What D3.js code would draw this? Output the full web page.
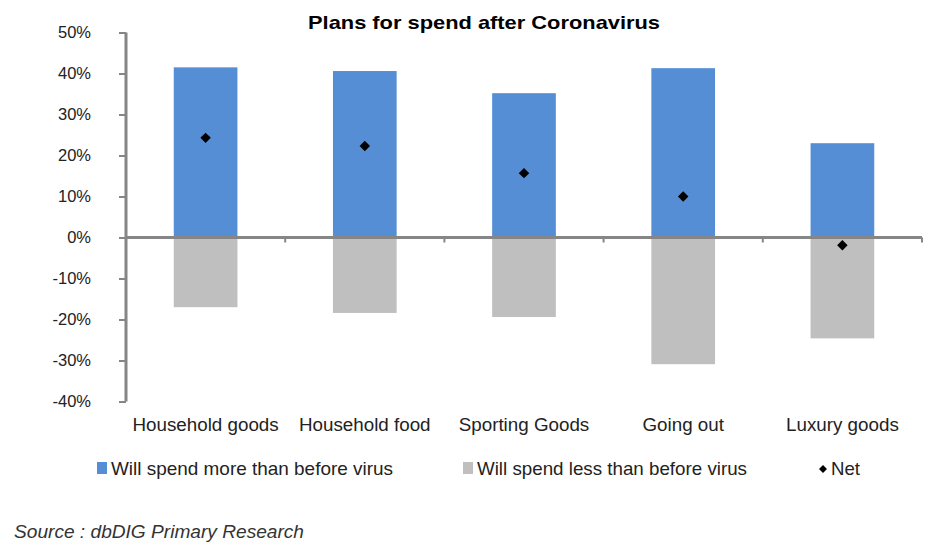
<!DOCTYPE html>
<html><head><meta charset="utf-8">
<script src="https://cdn.jsdelivr.net/npm/d3@7"></script>
<style>body{margin:0;background:#fff}svg{display:block}</style>
</head><body>
<svg id="c" width="939" height="551"></svg>
<script>
const categories = ["Household goods","Household food","Sporting Goods","Going out","Luxury goods"];
const moreValues = [41.5, 40.6, 35.2, 41.3, 23.0];
const lessValues = [-17.0, -18.4, -19.4, -30.9, -24.6];
const netValues = [24.3, 22.3, 15.7, 10.0, -1.9];
const yTicks = [50,40,30,20,10,0,-10,-20,-30,-40];
const legendLabels = ["Will spend more than before virus","Will spend less than before virus","Net"];

(function(){
const svg = d3.select("#c");
const pLeft = 126, pRight = 922, pTop = 32.5, pBottom = 401.5;
const x = d3.scaleBand().domain(categories).range([pLeft, pRight]).padding(0);
const y = d3.scaleLinear().domain([-40, 50]).range([pBottom, pTop]);
const barW = x.bandwidth() * 0.4;
const axisCol = "#868686";
const font = "Liberation Sans, Arial";

svg.append("text").attr("x", 308).attr("y", 29)
  .attr("font-family",font).attr("font-weight","bold").attr("font-size",19)
  .attr("textLength", 352).attr("lengthAdjust","spacingAndGlyphs")
  .text("Plans for spend after Coronavirus");

svg.selectAll("rect.more").data(categories).join("rect").attr("class","more")
  .attr("x", d => x(d) + x.bandwidth()/2 - barW/2).attr("width", barW)
  .attr("y", (d,i) => y(moreValues[i])).attr("height", (d,i) => y(0) - y(moreValues[i]))
  .attr("fill", "#558ED5");
svg.selectAll("rect.less").data(categories).join("rect").attr("class","less")
  .attr("x", d => x(d) + x.bandwidth()/2 - barW/2).attr("width", barW)
  .attr("y", y(0)).attr("height", (d,i) => y(lessValues[i]) - y(0))
  .attr("fill", "#BFBFBF");

// y axis
const yAxis = svg.append("g").attr("transform", `translate(${pLeft},0)`)
  .call(d3.axisLeft(y).tickValues(yTicks).tickSize(7).tickPadding(28).tickFormat(d => d + "%"));
yAxis.select(".domain").attr("stroke", axisCol).attr("stroke-width", 3).attr("d", `M0,${pTop}V${pBottom}`);
yAxis.selectAll(".tick line").attr("stroke", axisCol).attr("stroke-width", 2);
yAxis.selectAll(".tick text").attr("font-family",font).attr("font-size",16.5).attr("fill","#222");

// x axis at zero
const xAxisG = svg.append("g").attr("transform", `translate(0,${y(0)})`);
xAxisG.append("line").attr("x1", pLeft).attr("x2", pRight).attr("stroke", axisCol).attr("stroke-width", 3);
const boundaries = categories.map(c => x(c) + x.bandwidth());
xAxisG.selectAll("line.t").data(boundaries).join("line").attr("class","t")
  .attr("x1", d => d).attr("x2", d => d).attr("y1", 0).attr("y2", 5)
  .attr("stroke", axisCol).attr("stroke-width", 2);

// category labels
svg.selectAll("text.cat").data(categories).join("text").attr("class","cat")
  .attr("x", d => x(d) + x.bandwidth()/2).attr("y", 431).attr("text-anchor","middle")
  .attr("font-family",font).attr("font-size",18.8).attr("fill","#222")
  .text(d => d);

// net markers
const diamond = d3.symbol().type(d3.symbolDiamond2).size(70);
svg.selectAll("path.net").data(categories).join("path").attr("class","net")
  .attr("transform", (d,i) => `translate(${x(d) + x.bandwidth()/2},${y(netValues[i])})`)
  .attr("d", diamond).attr("fill", "#000");

// legend
const lg = svg.append("g");
lg.append("rect").attr("x", 97).attr("y", 462).attr("width", 10).attr("height", 12).attr("fill", "#558ED5");
lg.append("text").attr("x", 111).attr("y", 475).attr("font-family",font).attr("font-size",18.5)
  .attr("textLength", 282).attr("lengthAdjust","spacingAndGlyphs").attr("fill","#222").text(legendLabels[0]);
lg.append("rect").attr("x", 463).attr("y", 462).attr("width", 10).attr("height", 12).attr("fill", "#BFBFBF");
lg.append("text").attr("x", 477).attr("y", 475).attr("font-family",font).attr("font-size",18.5)
  .attr("textLength", 270).attr("lengthAdjust","spacingAndGlyphs").attr("fill","#222").text(legendLabels[1]);
lg.append("path").attr("transform","translate(823,469)").attr("d", d3.symbol().type(d3.symbolDiamond2).size(40)).attr("fill","#000");
lg.append("text").attr("x", 831).attr("y", 475).attr("font-family",font).attr("font-size",18.5)
  .attr("textLength", 29).attr("lengthAdjust","spacingAndGlyphs").attr("fill","#222").text(legendLabels[2]);

svg.append("text").attr("x", 14).attr("y", 538).attr("font-family",font).attr("font-style","italic")
  .attr("font-size",19).attr("textLength", 290).attr("lengthAdjust","spacingAndGlyphs").attr("fill","#333")
  .text("Source : dbDIG Primary Research");
})();
</script>
</body></html>
